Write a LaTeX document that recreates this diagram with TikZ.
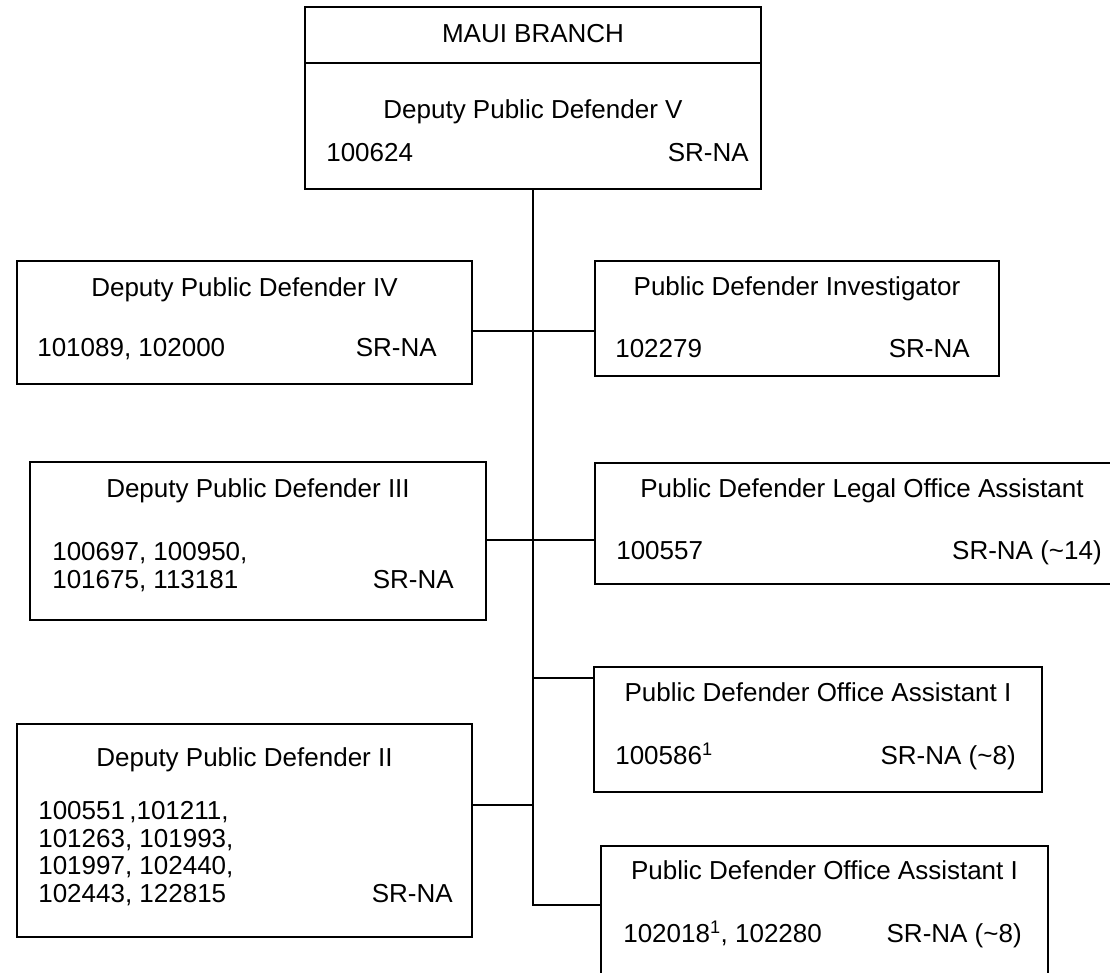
\documentclass[tikz,border=0pt]{standalone}
\usepackage{fontspec}
\setmainfont{Liberation Sans}
\usetikzlibrary{positioning}

\begin{document}
\begin{tikzpicture}[x=1pt,y=1pt,on grid,
  font=\fontsize{26}{27.5}\selectfont,
  post/.style={draw,line width=1.8pt,inner sep=0pt},
  link/.style={line width=1.8pt},
  head/.style={inner sep=0pt,anchor=base},
  num/.style={inner sep=0pt,anchor=base west,align=left},
  grade/.style={inner sep=0pt,anchor=base east}]
  \useasboundingbox (0,0) rectangle (1110,-973);

  % boxes
  \node[post,minimum width=456pt,minimum height=182pt] (top)   at (533,-98)      {};
  \node[post,minimum width=455pt,minimum height=123pt] (dpd4)  at (244.5,-322.5) {};
  \node[post,minimum width=404pt,minimum height=115pt] (pdi)   at (797,-318.5)   {};
  \node[post,minimum width=456pt,minimum height=158pt] (dpd3)  at (258,-541)     {};
  \node[post,minimum width=534pt,minimum height=121pt] (pdloa) at (862,-523.5)   {};
  \node[post,minimum width=448pt,minimum height=125pt] (pdoa1) at (818,-729.5)   {};
  \node[post,minimum width=455pt,minimum height=213pt] (dpd2)  at (244.5,-830.5) {};
  \node[post,minimum width=447pt,minimum height=130pt] (pdoa2) at (824.5,-911)   {};

  % top box
  \draw[link] ([yshift=-57pt]top.north west) -- ([yshift=-57pt]top.north east);
  \node[below=36pt of top.north,head] {MAUI BRANCH};
  \node[below=112pt of top.north,head] {Deputy Public Defender V};
  \node[below right=155pt and 22pt of top.north west,num] {100624};
  \node[below left=155pt and 13pt of top.north east,grade] {SR-NA};

  % left column
  \node[below=36pt of dpd4.north,head] {Deputy Public Defender IV};
  \node[below right=96pt and 21pt of dpd4.north west,num] {101089, 102000};
  \node[below left=96pt and 36pt of dpd4.north east,grade] {SR-NA};

  \node[below=36pt of dpd3.north,head] {Deputy Public Defender III};
  \node[below right=127pt and 23pt of dpd3.north west,num] {100697, 100950,\\101675, 113181};
  \node[below left=127pt and 33pt of dpd3.north east,grade] {SR-NA};

  \node[below=43pt of dpd2.north,head] {Deputy Public Defender II};
  \node[below right=179pt and 22pt of dpd2.north west,num]
    {100551\,,101211,\\101263, 101993,\\101997, 102440,\\102443, 122815};
  \node[below left=179pt and 20pt of dpd2.north east,grade] {SR-NA};

  % right column
  \node[below=35pt of pdi.north,head] {Public Defender Investigator};
  \node[below right=97pt and 21pt of pdi.north west,num] {102279};
  \node[below left=97pt and 30pt of pdi.north east,grade] {SR-NA};

  \node[below=35pt of pdloa.north,head] {Public Defender Legal Office Assistant};
  \node[below right=97pt and 22pt of pdloa.north west,num] {100557};
  \node[below left=97pt and 28pt of pdloa.north east,grade] {SR-NA (\textasciitilde14)};

  \node[below=35pt of pdoa1.north,head] {Public Defender Office Assistant I};
  \node[below right=98pt and 22pt of pdoa1.north west,num] {100586\textsuperscript{1}};
  \node[below left=98pt and 27pt of pdoa1.north east,grade] {SR-NA (\textasciitilde8)};

  \node[below=34pt of pdoa2.north,head] {Public Defender Office Assistant I};
  \node[below right=97pt and 23pt of pdoa2.north west,num] {102018\textsuperscript{1}, 102280};
  \node[below left=97pt and 27pt of pdoa2.north east,grade] {SR-NA (\textasciitilde8)};

  % connectors
  \coordinate (trunkend) at (533,-905);
  \draw[link] (top.south) -- (trunkend) -- (trunkend -| pdoa2.west);
  \draw[link] ([yshift=-8.5pt]dpd4.east) -- ([yshift=-8.5pt]dpd4.east -| pdi.west);
  \draw[link] ([yshift=1pt]dpd3.east) -- ([yshift=1pt]dpd3.east -| pdloa.west);
  \draw[link] ([yshift=51.5pt]pdoa1.west) -- ([yshift=51.5pt]pdoa1.west -| top.south);
  \draw[link] ([yshift=25.5pt]dpd2.east) -- ([yshift=25.5pt]dpd2.east -| top.south);
\end{tikzpicture}
\end{document}
